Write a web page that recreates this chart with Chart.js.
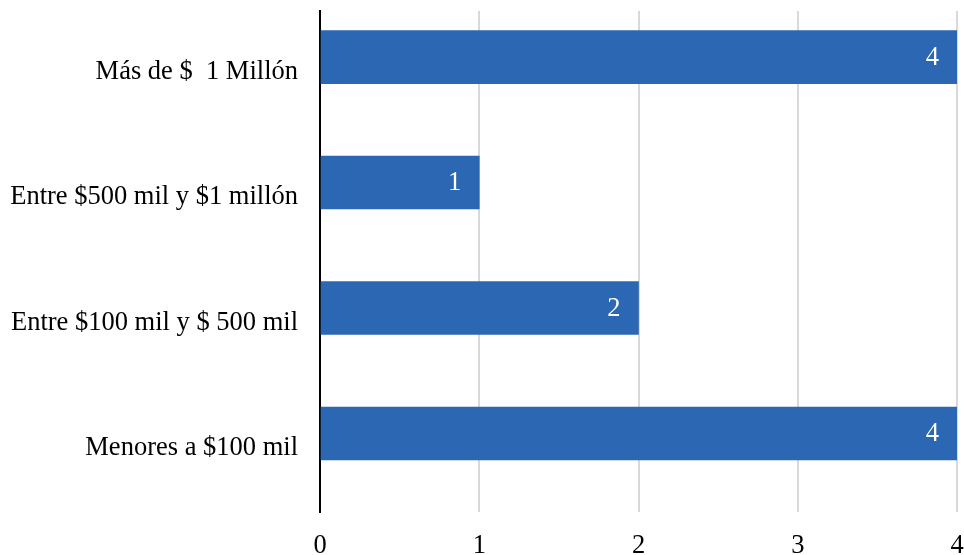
<!DOCTYPE html>
<html>
<head>
<meta charset="utf-8">
<script src="https://cdn.jsdelivr.net/npm/chart.js@4/dist/chart.umd.min.js"></script>
<style>
  html, body { margin: 0; padding: 0; background: #fff; }
  #wrap { width: 964px; height: 555px; }
</style>
</head>
<body>
<div id="wrap"><canvas id="chart" width="964" height="555"></canvas></div>
<script>
// Categorías (de arriba hacia abajo) y valores
const categories = [
    'Más de $  1 Millón',
    'Entre $500 mil y $1 millón',
    'Entre $100 mil y $ 500 mil',
    'Menores a $100 mil'
];
const values = [4, 1, 2, 4];
const xTicks = [0, 1, 2, 3, 4];

const FONT = "'Liberation Serif', 'Times New Roman', serif";
const FONT_SIZE = 26.5;
const BAR_COLOR = '#2b67b2';

// Etiquetas de datos blancas dentro del extremo de la barra
const valueLabels = {
    id: 'valueLabels',
    afterDatasetsDraw(chart) {
        const ctx = chart.ctx;
        const meta = chart.getDatasetMeta(0);
        ctx.save();
        ctx.fillStyle = '#ffffff';
        ctx.font = FONT_SIZE + 'px ' + FONT;
        ctx.textAlign = 'right';
        ctx.textBaseline = 'middle';
        meta.data.forEach((bar, i) => {
            ctx.fillText(String(values[i]), bar.x - 18, bar.y + 1);
        });
        ctx.restore();
    }
};

new Chart(document.getElementById('chart'), {
    type: 'bar',
    data: {
        datasets: [{
            data: values.map((v, i) => ({ x: v, y: i })),
            backgroundColor: BAR_COLOR,
            borderWidth: 0,
            barThickness: 53
        }]
    },
    plugins: [valueLabels],
    options: {
        indexAxis: 'y',
        responsive: false,
        animation: false,
        layout: { padding: { left: 0, right: 7, top: 11, bottom: 0 } },
        plugins: {
            legend: { display: false },
            tooltip: { enabled: false }
        },
        scales: {
            x: {
                type: 'linear',
                min: 0,
                max: 4,
                offset: false,
                afterBuildTicks: scale => { scale.ticks = xTicks.map(v => ({ value: v })); },
                afterFit: scale => {
                    scale.height = 43;
                    scale.paddingLeft = 0;
                    scale.paddingRight = 0;
                },
                grid: {
                    color: ctx => ctx.tick && ctx.tick.value === 0 ? 'rgba(0,0,0,0)' : '#d9d9d9',
                    lineWidth: 2,
                    drawTicks: false
                },
                border: { display: false },
                ticks: {
                    color: '#000',
                    font: { family: FONT, size: FONT_SIZE },
                    maxRotation: 0,
                    padding: 18
                }
            },
            y: {
                type: 'linear',
                reverse: true,
                offset: false,
                min: -0.367,
                max: 3.626,
                afterBuildTicks: scale => { scale.ticks = categories.map((c, i) => ({ value: i })); },
                afterFit: scale => {
                    scale.width = 320;
                    scale.paddingTop = 0;
                    scale.paddingBottom = 0;
                },
                grid: { display: false, drawTicks: false, offset: false },
                border: { display: true, color: '#000', width: 2 },
                ticks: {
                    color: '#000',
                    font: { family: FONT, size: FONT_SIZE },
                    padding: 22,
                    labelOffset: 15,
                    callback: v => categories[v]
                }
            }
        }
    }
});
</script>
</body>
</html>
